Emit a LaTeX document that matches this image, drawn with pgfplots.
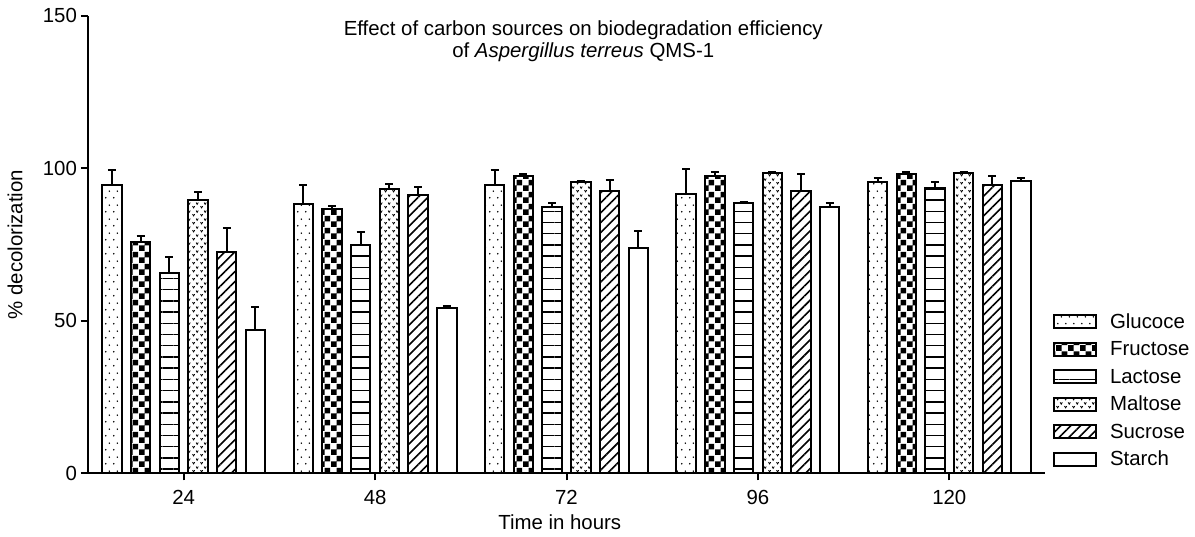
\documentclass[border=0pt]{standalone}
\usepackage{pgfplots}
\pgfplotsset{compat=1.18}
\usepackage{pgfplotstable}
\usepackage{fontspec}
\setmainfont{Liberation Sans}
\usetikzlibrary{patterns,patterns.meta}

\pgfdeclarepatternformonly{checker}{\pgfpointorigin}{\pgfpoint{5.8pt}{5.8pt}}{\pgfpoint{5.8pt}{5.8pt}}{%
  \pgfpathrectangle{\pgfpointorigin}{\pgfpoint{2.9pt}{2.9pt}}%
  \pgfpathrectangle{\pgfpoint{2.9pt}{2.9pt}}{\pgfpoint{2.9pt}{2.9pt}}%
  \pgfusepath{fill}}
\pgfdeclarepatternformonly{sparsedots}{\pgfpointorigin}{\pgfpoint{4pt}{7pt}}{\pgfpoint{4pt}{7pt}}{%
  \pgfpathcircle{\pgfpoint{1pt}{1.75pt}}{0.45pt}%
  \pgfpathcircle{\pgfpoint{3pt}{5.25pt}}{0.45pt}%
  \pgfusepath{fill}}
\pgfdeclarepatternformonly{vmarks}{\pgfpointorigin}{\pgfpoint{4pt}{4pt}}{\pgfpoint{4pt}{4pt}}{%
  \pgfsetlinewidth{0.45pt}%
  \pgfpathmoveto{\pgfpoint{0.3pt}{1.6pt}}\pgfpathlineto{\pgfpoint{0.9pt}{0.6pt}}\pgfpathlineto{\pgfpoint{1.5pt}{1.6pt}}%
  \pgfpathmoveto{\pgfpoint{2.3pt}{3.6pt}}\pgfpathlineto{\pgfpoint{2.9pt}{2.6pt}}\pgfpathlineto{\pgfpoint{3.5pt}{3.6pt}}%
  \pgfusepath{stroke}}

\pgfplotstableread{
x y e
24 94.4 5.0
48 88.2 6.4
72 94.4 4.9
96 91.5 8.2
120 95.4 1.4
}\glucose
\pgfplotstableread{
x y e
24 75.8 1.9
48 86.6 1.0
72 97.5 0.7
96 97.4 1.3
120 98.2 0.5
}\fructose
\pgfplotstableread{
x y e
24 65.6 5.4
48 74.8 4.3
72 87.3 1.4
96 88.5 0.4
120 93.7 1.7
}\lactose
\pgfplotstableread{
x y e
24 89.5 2.6
48 93.3 1.5
72 95.4 0.4
96 98.4 0.3
120 98.6 0.2
}\maltose
\pgfplotstableread{
x y e
24 72.5 7.9
48 91.2 2.6
72 92.4 3.9
96 92.5 5.6
120 94.4 3.1
}\sucrose
\pgfplotstableread{
x y e
24 46.9 7.6
48 54.3 0.5
72 74.0 5.4
96 87.2 1.5
120 95.7 1.0
}\starch

\pgfplotsset{
  mybar/.style={ybar, bar width=2.44, bar shift=0pt, draw=black, line width=1pt,
    legend image code/.code={\draw[##1, line width=1pt] (0pt,-2.6pt) rectangle (21pt,3.9pt); \path (27.5pt,0pt);},
    error bars/y dir=plus, error bars/y explicit,
    error bars/error bar style={line width=1pt, black, solid},
    error bars/error mark options={rotate=90, mark size=2pt, line width=1pt, black, solid}},
}
\newcommand{\fs}{\fontsize{10.2}{11}\selectfont}

\begin{document}
\begin{tikzpicture}[font=\fs]
\begin{axis}[
  at={(0pt,0pt)}, anchor=origin,
  scale only axis,
  width=478.5pt, height=228.9pt,
  xmin=12, xmax=132, ymin=0, ymax=150,
  axis x line=bottom, axis y line=left,
  axis line style={-, line width=1pt},
  xtick={24,48,72,96,120},
  ytick={0,50,100,150},
  tick align=outside,
  major tick length=3.5pt,
  tick style={line width=1pt, black},
  minor tick num=0,
  /pgf/number format/assume math mode=true,
  xticklabel style={font=\fs, anchor=north, yshift=-1.5pt},
  yticklabel style={font=\fs, anchor=east, xshift=1.5pt},
  xlabel={Time in hours},
  ylabel={\% decolorization},
  label style={font=\fs},
  xlabel style={at={(axis description cs:0.493,0)}, anchor=north, yshift=-17pt},
  ylabel style={at={(axis description cs:-0.0763,0.5)}, anchor=center},
  clip=false,
  legend cell align=left,
  legend style={at={(rel axis cs:1.0084,0.348)}, anchor=north west, draw=none, fill=none,
    inner sep=0pt, outer sep=0pt, row sep=5.0pt,
    nodes={inner sep=0pt, text height=7.0pt, text depth=1.7pt, font=\fs}},
]
\addplot[mybar, pattern=sparsedots] table[x expr=\thisrow{x}-9, y=y, y error=e]{\glucose};
\addlegendentry{Glucoce}
\addplot[mybar, pattern=checker] table[x expr=\thisrow{x}-5.4, y=y, y error=e]{\fructose};
\addlegendentry{Fructose}
\addplot[mybar, pattern={Lines[angle=0, distance=5.6pt, line width=0.7pt]}] table[x expr=\thisrow{x}-1.8, y=y, y error=e]{\lactose};
\addlegendentry{Lactose}
\addplot[mybar, pattern=vmarks] table[x expr=\thisrow{x}+1.8, y=y, y error=e]{\maltose};
\addlegendentry{Maltose}
\addplot[mybar, pattern={Lines[angle=45, distance=3.5pt, line width=0.8pt]}] table[x expr=\thisrow{x}+5.4, y=y, y error=e]{\sucrose};
\addlegendentry{Sucrose}
\addplot[mybar, fill=white] table[x expr=\thisrow{x}+9, y=y, y error=e]{\starch};
\addlegendentry{Starch}
\node[align=center, anchor=base] at (axis cs:74.1,136.4) {Effect of carbon sources on biodegradation efficiency\\of \textit{Aspergillus terreus} QMS-1};
\end{axis}
\path[use as bounding box] (-44pt,-30.75pt) rectangle (553.5pt,236.75pt);
\end{tikzpicture}
\end{document}
